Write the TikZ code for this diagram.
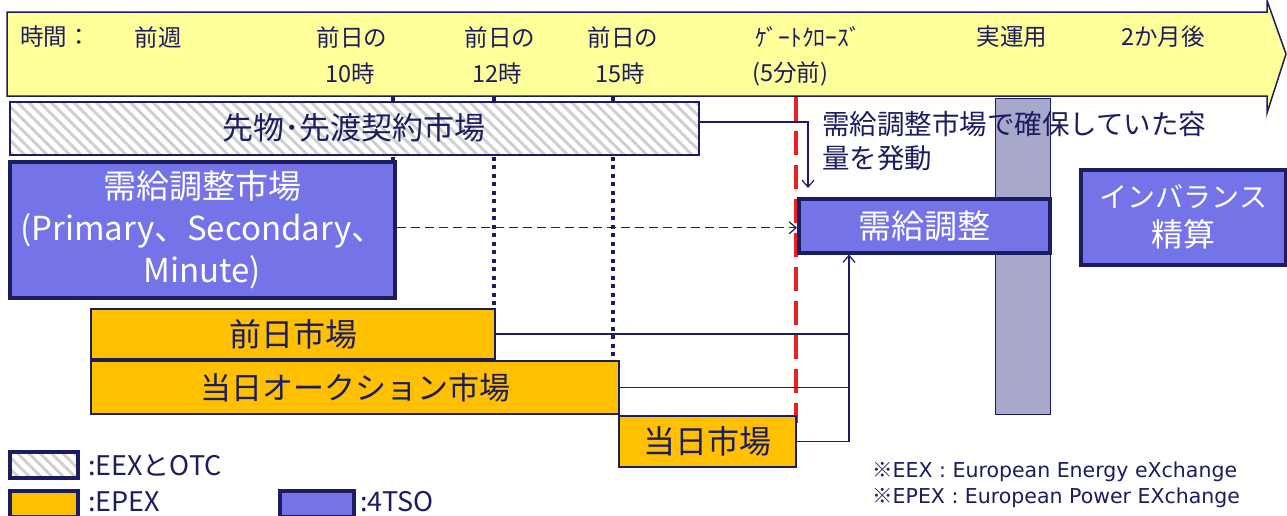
\documentclass[tikz,border=0pt]{standalone}
\usepackage{fontspec}
\setmainfont{Noto Sans CJK JP}
\newfontfamily\notefont{DejaVu Sans}
\usetikzlibrary{arrows.meta,patterns.meta,calc}
\definecolor{navy}{RGB}{28,28,96}
\definecolor{pyellow}{RGB}{255,255,153}
\definecolor{tso}{RGB}{116,116,232}
\definecolor{epex}{RGB}{255,192,0}
\definecolor{barg}{RGB}{168,168,204}
\definecolor{hatchg}{RGB}{208,208,208}
\definecolor{gcred}{RGB}{240,30,30}
\tikzset{
  hdr/.style={font=\fontsize{23.5}{25}\selectfont, text=navy, inner sep=0pt},
  mkt/.style={draw=navy, line width=2pt, anchor=north west, inner sep=0pt, text=navy, font=\fontsize{31}{34}\selectfont},
  hatchbox/.style={mkt, preaction={fill=white}, pattern={Lines[angle=-45,distance=8pt,line width=3pt]}, pattern color=hatchg},
  epexbox/.style={mkt, fill=epex},
  tsobox/.style={mkt, fill=tso, line width=3.5pt, text=white, align=center},
  conn/.style={draw=navy, line width=1.3pt},
  tip/.style={-{Straight Barb[length=7pt,width=12pt,line width=1.2pt]}},
  vdot/.style={draw=navy, line width=3.5pt, dash pattern=on 4pt off 4.5pt},
  legbox/.style={draw=navy, line width=3.5pt, anchor=north west, minimum width=68pt, minimum height=26pt, inner sep=0pt},
  legtxt/.style={anchor=west, text=navy, inner sep=0pt, font=\fontsize{27}{29}\selectfont},
  note/.style={anchor=west, text=navy, inner sep=0pt, font=\fontsize{20.5}{22}\selectfont}
}
\begin{document}
\begin{tikzpicture}[x=1pt,y=-1pt]
\useasboundingbox[fill=white] (0,0) rectangle (1287,515);
% timeline arrow
\draw[fill=pyellow, draw=navy, line width=1.5pt] (7,12) -- (1267,12) -- (1267,0.5) -- (1286,54) -- (1267,113) -- (1267,96) -- (7,96) -- cycle;
\node[hdr, anchor=west] (t0) at (20,37) {時間：};
\node[hdr] (t1) at (158,37) {前週};
\node[hdr] (t2) at (352,37) {前日の};
\node[hdr] (t2b) at (350,74) {10時};
\node[hdr] (t3) at (500,37) {前日の};
\node[hdr] (t3b) at (497,74) {12時};
\node[hdr] (t4) at (623,37) {前日の};
\node[hdr] (t4b) at (620,74) {15時};
\node[hdr, anchor=west] (t5) at (755,37) {ｹﾞｰﾄｸﾛｰｽﾞ};
\node[hdr, anchor=west] (t5b) at (752,74) {(5分前)};
\node[hdr] (t6) at (1012,37) {実運用};
\node[hdr] (t7) at (1163,37) {2か月後};
% time markers
\draw[vdot] (393,97) -- (393,297);
\draw[vdot] (494,97) -- (494,358);
\draw[vdot] (613,97) -- (613,361);
% real-time operation bar
\node[draw=navy, line width=1pt, fill=barg, anchor=north west, minimum width=55pt, minimum height=316pt, inner sep=0pt] (bar) at (995,98) {};
% gate closure
\draw[draw=gcred, line width=3.5pt, dash pattern=on 24pt off 10pt] (796,97) -- (796,423);
% markets
\node[hatchbox, minimum width=689pt, minimum height=53pt] (fut) at (8,100) {先物･先渡契約市場};
\node[tsobox, minimum width=385pt, minimum height=136pt, font=\fontsize{33}{42}\selectfont] (bal) at (8,160) {需給調整市場\\(Primary、Secondary、\\Minute)};
\node[epexbox, minimum width=404pt, minimum height=50pt, font=\fontsize{32}{34}\selectfont] (da) at (90,308) {前日市場};
\node[epexbox, minimum width=528pt, minimum height=53pt] (ida) at (90,360) {当日オークション市場};
\node[epexbox, minimum width=177pt, minimum height=51pt, font=\fontsize{32}{34}\selectfont] (intra) at (618,415) {当日市場};
\node[tsobox, minimum width=251pt, minimum height=54pt, font=\fontsize{33}{35}\selectfont] (adj) at (797,197) {需給調整};
\node[tsobox, minimum width=205pt, minimum height=95pt, font=\fontsize{28}{39}\selectfont] (imb) at (1079,168) {インバランス\\{\fontsize{32}{39}\selectfont 精算}};
% annotation
\node[anchor=north west, text=navy, inner sep=0pt, align=left, font=\fontsize{27.5}{34}\selectfont] (ann) at (822,111) {需給調整市場で確保していた容\\量を発動};
% connectors
\coordinate (adjin) at ([xshift=52pt]adj.south west);
\draw[conn, tip] ([yshift=6pt]fut.east) -| ([xshift=11pt,yshift=9pt]adj.north west);
\draw[conn, tip, dash pattern=on 9pt off 5pt] ([yshift=2pt]bal.east) -- ([yshift=2pt]bal.east -| adj.west);
\draw[conn, tip] (da.east) -| (adjin);
\draw[conn] (ida.east) -- (ida.east -| adjin);
\draw[conn] (intra.east) -| (da.east -| adjin);
% legend
\node[legbox, preaction={fill=white}, pattern={Lines[angle=-45,distance=8pt,line width=3pt]}, pattern color=hatchg] (l1) at (8,450) {};
\node[legtxt] (l1t) at (88,465) {:EEXとOTC};
\node[legbox, fill=epex] (l2) at (8,489) {};
\node[legtxt] (l2t) at (88,502) {:EPEX};
\node[legbox, fill=tso, minimum width=74pt] (l3) at (278,489) {};
\node[legtxt] (l3t) at (360,502) {:4TSO};
% notes
\node[note] (n1) at (872,472) {※{\notefont EEX : European Energy eXchange}};
\node[note] (n2) at (872,498) {※{\notefont EPEX : European Power EXchange}};
\end{tikzpicture}
\end{document}
